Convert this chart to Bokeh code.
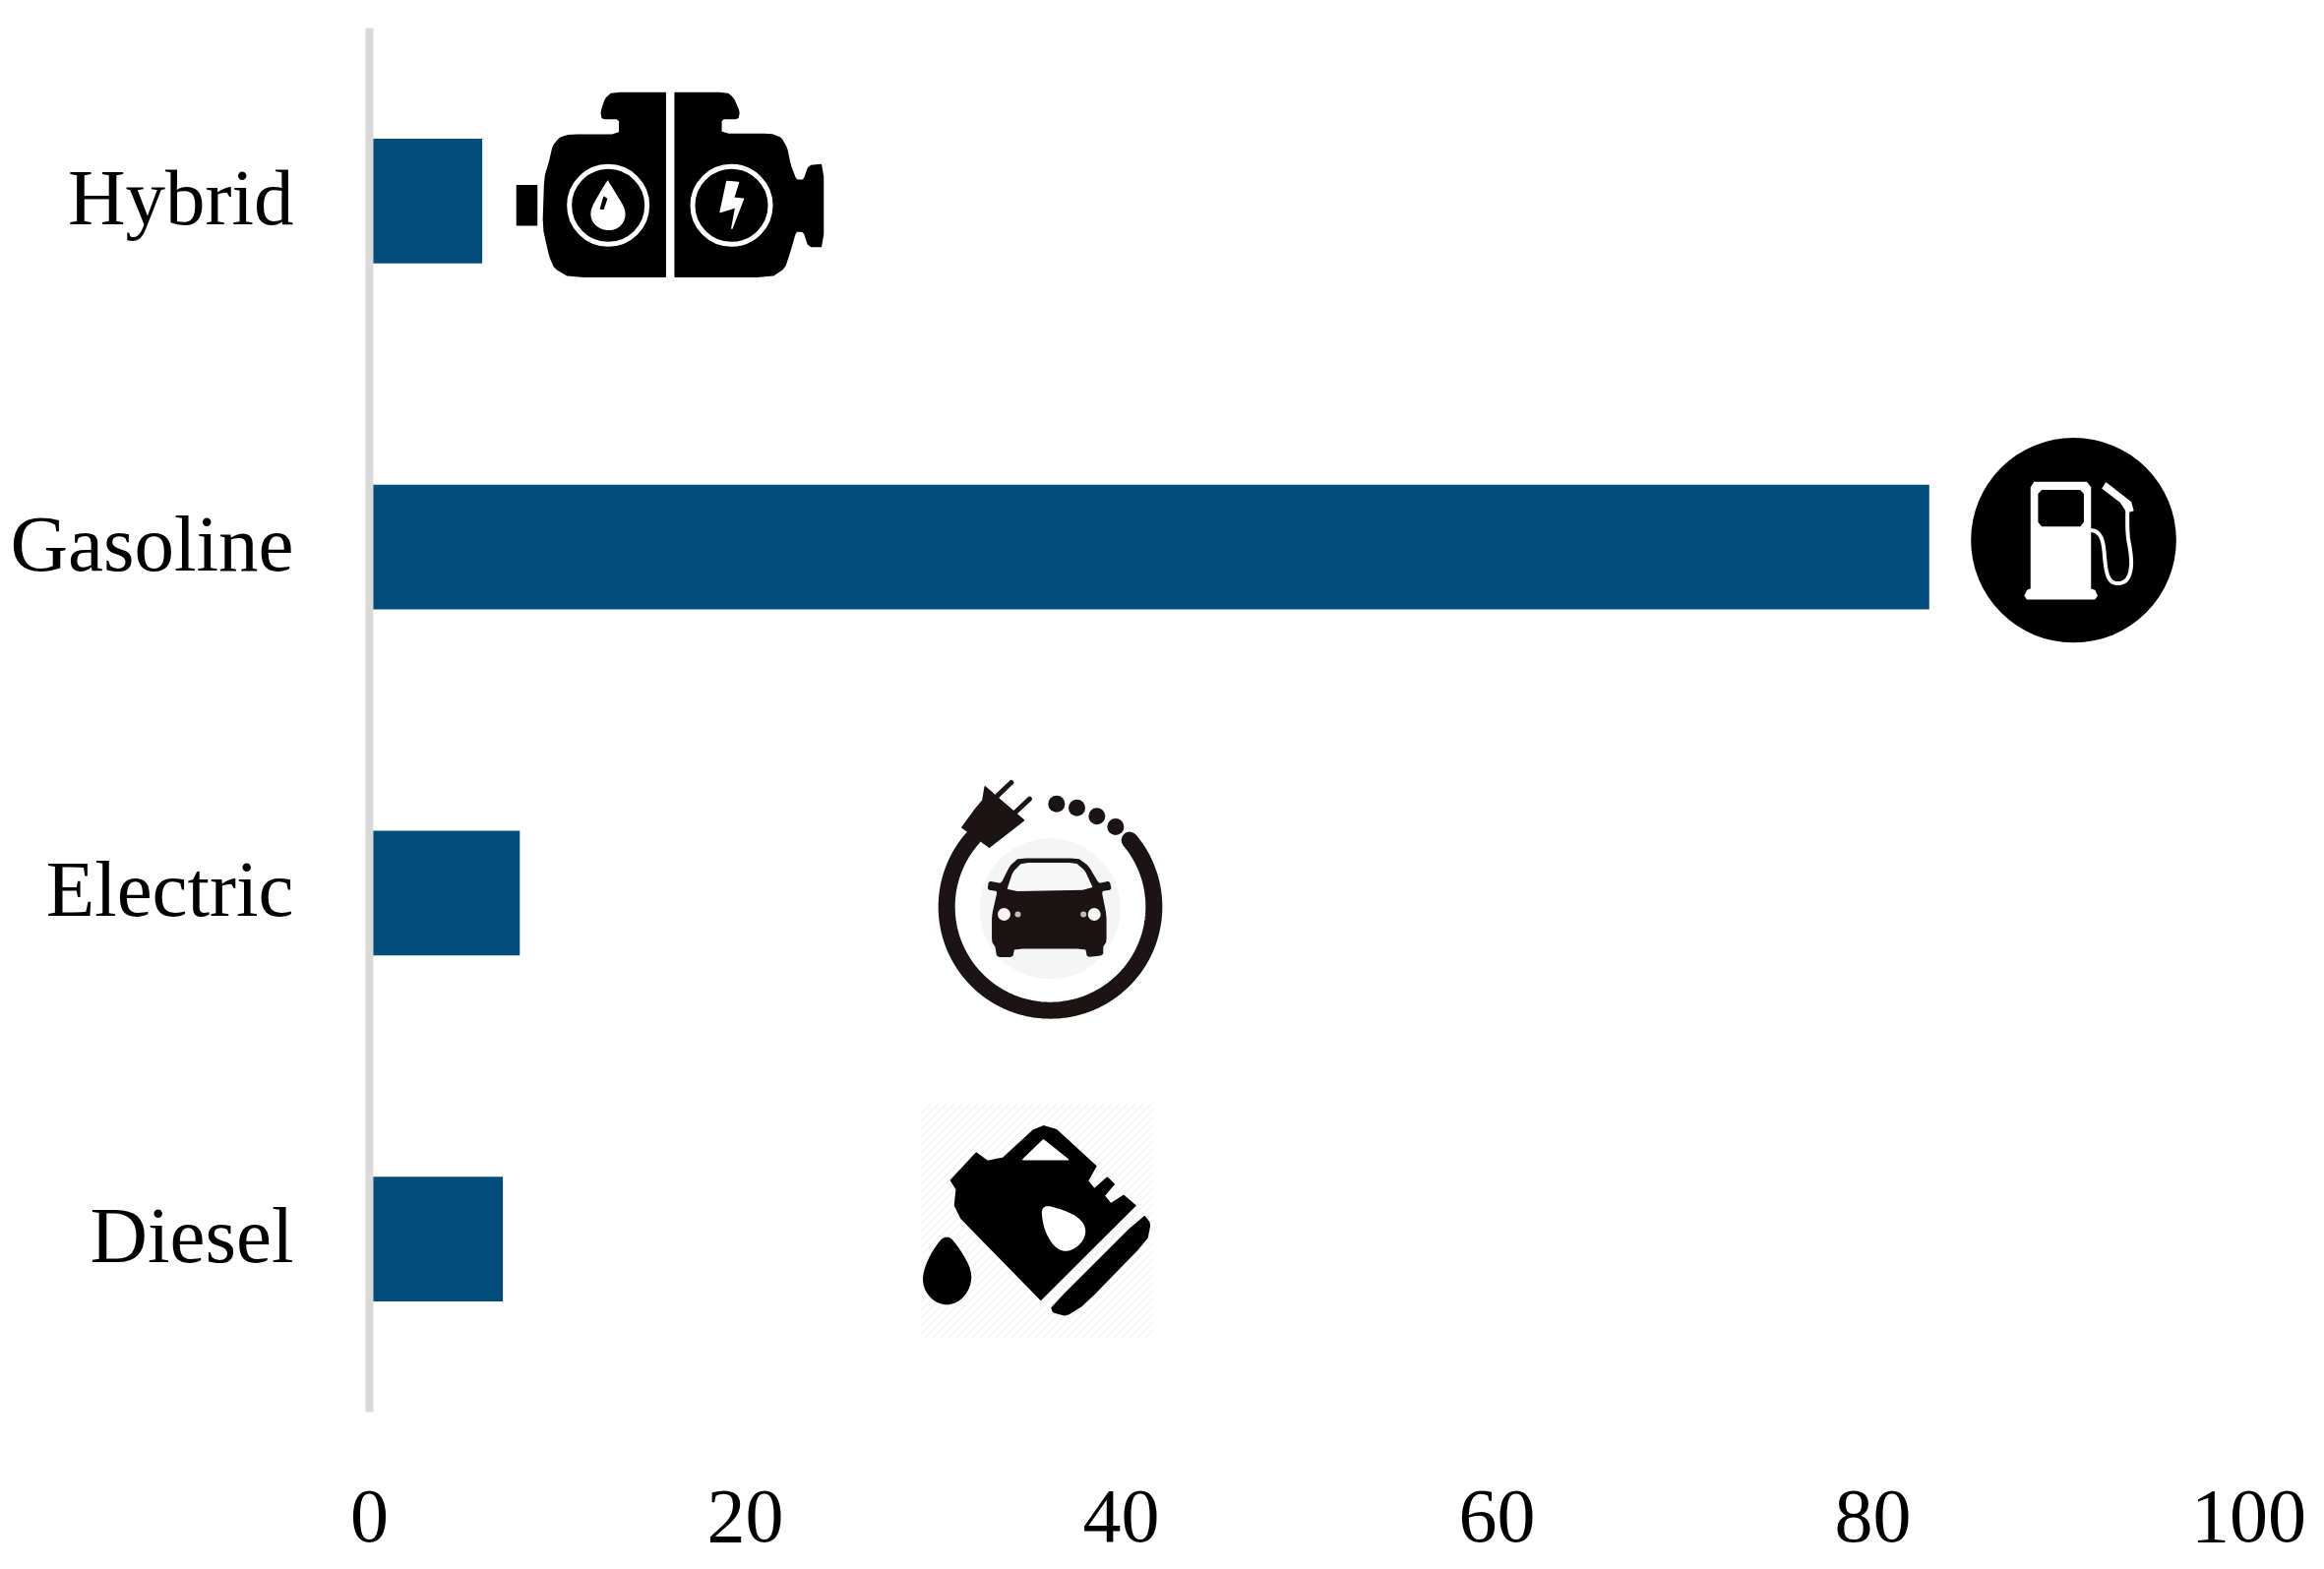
import numpy as np
from bokeh.embed import file_html
from bokeh.models import FixedTicker, Range1d
from bokeh.plotting import figure
from bokeh.resources import INLINE

# ---- chart data ----
fuels = ["Diesel", "Electric", "Gasoline", "Hybrid"]
shares = [7.1, 8.0, 83.0, 6.0]
x_ticks = [0, 20, 40, 60, 80, 100]

BAR = "#014e7c"
AXIS = "#d9d9d9"
FONT = "Liberation Serif"
INK = "#000000"
CAR = "#1b1314"

# ---- icon outlines, in the units of a 3x enlargement of each icon's region ----
ENGINE_O = (500, 70)
engine_block = [(75, 355), (135, 355), (135, 475), (75, 475)]
engine_left = [(527, 72), (365, 72), (345, 90), (332, 130), (335, 150), (388, 150), (388, 200), (235, 200),
               (205, 210), (185, 235), (175, 280), (160, 330), (155, 480), (175, 570), (190, 605), (235, 632), (527, 632)]
engine_right = [(557, 72), (715, 72), (735, 90), (752, 130), (748, 150), (697, 150), (697, 198), (850, 198),
                (880, 210), (897, 240), (907, 290), (925, 338), (950, 338), (965, 295), (1008, 290), (1008, 540),
                (965, 540), (950, 495), (925, 492), (905, 560), (890, 605), (850, 632), (557, 632)]
engine_drop = [(352, 340), (352, 343), (375, 380), (405, 430), (400, 465), (375, 488), (335, 488), (305, 465), (300, 430), (325, 385)]
engine_speck = [(340, 390), (348, 395), (338, 425), (330, 425)]
engine_bolt = [(715, 342), (750, 345), (735, 392), (765, 395), (730, 485), (742, 420), (695, 435)]
engine_rings = [(353, 415), (729, 415)]

PUMP_O = (1980, 430)
pump_disc = (381, 356, 313)
pump_body = [(262, 180), (420, 180), (432, 195), (432, 505), (445, 510), (452, 525), (445, 535), (240, 535),
             (233, 525), (240, 510), (252, 505), (252, 195)]
pump_window = [(285, 205), (400, 205), (410, 215), (410, 300), (400, 312), (285, 312), (275, 300), (275, 215)]
pump_hose = [(432, 325), (455, 330), (472, 360), (478, 440), (490, 480), (515, 490), (545, 480), (558, 440),
             (555, 390), (545, 340), (545, 265)]
pump_nozzle = [(480, 182), (555, 240), (562, 265), (545, 270), (525, 240), (470, 198)]

PLUG_O = (930, 770)
plug_ring = (411, 454, 316)
plug_dots = [(430, 140), (492, 152), (553, 178), (610, 210)]
plug_body = [(212, 88), (330, 190), (225, 272), (142, 212), (180, 160), (205, 130)]
plug_pins = [[(250, 115), (292, 75)], [(305, 165), (348, 125)]]
car_body = [(315, 308), (495, 308), (525, 330), (558, 385), (590, 378), (595, 400), (565, 405), (580, 480), (580, 560),
            (570, 575), (570, 600), (525, 605), (520, 580), (300, 580), (295, 605), (250, 605), (245, 575), (235, 560),
            (235, 480), (252, 405), (222, 400), (225, 378), (262, 385), (290, 330)]
car_glass = [(325, 322), (488, 322), (515, 345), (540, 400), (280, 405), (298, 350)]
car_lamps = [(270, 477), (545, 477)]
car_marks = [(312, 477), (512, 477)]

CAN_O = (920, 1110)
can_square = (51, 36, 756, 747)
can_body = [(215, 185), (250, 210), (298, 200), (390, 115), (420, 103), (460, 115), (580, 225), (555, 270), (575, 295),
            (615, 260), (635, 280), (605, 315), (625, 340), (665, 315), (700, 345), (412, 632), (170, 385), (150, 345),
            (155, 295), (138, 268)]
can_handle = [(420, 145), (495, 205), (358, 205)]
can_label = [(415, 343), (480, 360), (530, 385), (550, 420), (535, 460), (495, 485), (460, 475), (435, 440), (420, 400)]
can_drop = [(125, 432), (165, 480), (200, 545), (195, 595), (165, 635), (125, 648), (85, 635), (55, 595), (55, 545), (85, 480)]
can_tray = [(725, 375), (745, 400), (735, 450), (545, 645), (490, 680), (450, 670), (445, 655)]


def xs_ys(origin, pts):
    return [origin[0] + a / 3 for a, _ in pts], [origin[1] + b / 3 for _, b in pts]


def rounded(pts, rounds=2, closed=True, cut=0.25):
    """Corner-cutting, so that an icon's curved outline is not a visible polygon."""
    pts = [tuple(q) for q in pts]
    for _ in range(rounds):
        out = [] if closed else [pts[0]]
        n = len(pts)
        for i in range(n if closed else n - 1):
            a, b = pts[i], pts[(i + 1) % n]
            out.append(((1 - cut) * a[0] + cut * b[0], (1 - cut) * a[1] + cut * b[1]))
            out.append((cut * a[0] + (1 - cut) * b[0], cut * a[1] + (1 - cut) * b[1]))
        if not closed:
            out.append(pts[-1])
        pts = out
    return pts


# ---- figure: the frame runs x 375..2285 and y 28..1435 of the page ----
W, H = 2354, 1587
L, R, T, B = 375, 2285, 28, 1435
slots = [i + 0.5 for i in range(len(fuels))]
p = figure(width=W, height=H, output_backend="svg", toolbar_location=None,
           x_range=Range1d(0, 100), y_range=Range1d(0, len(fuels)),
           min_border_left=L, min_border_right=W - R,
           min_border_top=T, min_border_bottom=H - B,
           outline_line_color=None, background_fill_color="white", border_fill_color="white")
p.extra_x_ranges["px"] = Range1d(L, R)
p.extra_y_ranges["px"] = Range1d(B, T)
# the labels sit a little higher on the slots than this font's own centre would
lift = 3.5 / ((B - T) / len(fuels))
p.extra_y_ranges["labels"] = Range1d(-lift, len(fuels) - lift)
p.grid.visible = False

p.hbar(y=slots, right=shares, left=0, height=0.36, color=BAR, line_color=None)

xa = p.xaxis[0]
xa.ticker = FixedTicker(ticks=x_ticks)
xa.axis_line_color = None
xa.major_tick_line_color = None
xa.minor_tick_line_color = None
xa.major_label_text_font = FONT
xa.major_label_text_font_size = "78px"
xa.major_label_text_color = INK
xa.major_label_standoff = 74

ya = p.yaxis[0]
ya.y_range_name = "labels"
ya.ticker = FixedTicker(ticks=slots)
ya.major_label_overrides = dict(zip(slots, fuels))
ya.axis_line_color = AXIS
ya.axis_line_width = 8
ya.major_tick_line_color = None
ya.minor_tick_line_color = None
ya.major_label_text_font = FONT
ya.major_label_text_font_size = "81px"
ya.major_label_text_color = INK
ya.major_label_standoff = 71

kw = dict(x_range_name="px", y_range_name="px")


def poly(origin, pts, color):
    x, y = xs_ys(origin, pts)
    p.patch(x, y, fill_color=color, line_color=color, line_width=1.5, line_join="round", **kw)


def stroke(origin, pts, color, width):
    x, y = xs_ys(origin, pts)
    p.line(x, y, line_color=color, line_width=width, line_cap="round", line_join="round", **kw)


def dots(origin, pts, color, size):
    x, y = xs_ys(origin, pts)
    p.scatter(x, y, marker="circle", size=size, line_color=None, fill_color=color, **kw)


# Hybrid engine
poly(ENGINE_O, engine_block, INK)
poly(ENGINE_O, rounded(engine_left, 1, closed=False, cut=0.15), INK)
poly(ENGINE_O, rounded(engine_right, 1, closed=False, cut=0.15), INK)
x, y = xs_ys(ENGINE_O, engine_rings)
p.scatter(x, y, marker="circle", size=79, fill_color=None, line_color="white", line_width=5, **kw)
poly(ENGINE_O, rounded(engine_drop), "white")
poly(ENGINE_O, engine_speck, INK)
poly(ENGINE_O, engine_bolt, "white")

# Gasoline pump
dots(PUMP_O, [pump_disc[:2]], INK, 2 * pump_disc[2] / 3)
poly(PUMP_O, pump_body, "white")
poly(PUMP_O, pump_window, INK)
stroke(PUMP_O, rounded(pump_hose, 3, closed=False), "white", 4)
poly(PUMP_O, pump_nozzle, "white")

# Electric car
dots(PLUG_O, [(410, 460)], "#f5f5f5", 143)
cx, cy, r = plug_ring
t = np.radians(np.linspace(-40, 222, 140))
stroke(PLUG_O, list(zip(cx + r * np.cos(t), cy + r * np.sin(t))), CAR, 17)
dots(PLUG_O, plug_dots, CAR, 17)
poly(PLUG_O, plug_body, CAR)
for pin in plug_pins:
    stroke(PLUG_O, pin, CAR, 5)
poly(PLUG_O, rounded(car_body, 1, cut=0.12), CAR)
poly(PLUG_O, rounded(car_glass, 1, cut=0.12), "#f7f7f7")
dots(PLUG_O, car_lamps, "#f4f4f4", 13)
dots(PLUG_O, car_marks, "#bbbbbb", 6)

# Diesel can, on its faintly hatched square
x0, y0, x1, y1 = can_square
for c in range(x0 + y0 + 24, x1 + y1, 24):
    a = max(x0, c - y1)
    b = min(x1, c - y0)
    if b > a:
        stroke(CAN_O, [(a, c - a), (b, c - b)], "#f4f4f4", 1.5)
poly(CAN_O, can_body, INK)
poly(CAN_O, can_handle, "white")
poly(CAN_O, rounded(can_label), "white")
poly(CAN_O, rounded(can_drop), INK)
poly(CAN_O, rounded(can_tray, 1, cut=0.15), INK)

open("out.html", "w").write(file_html(p, INLINE))
